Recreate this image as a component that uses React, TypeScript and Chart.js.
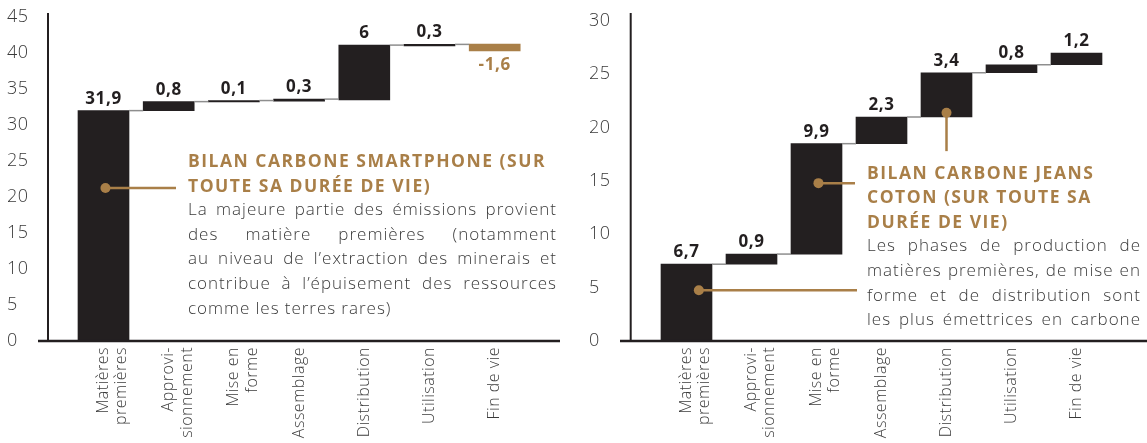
import React, { useEffect, useRef } from "react";
import { Chart, registerables } from "chart.js";

Chart.register(...registerables);

// ---------- data ----------
const categories: string[][] = [
  ["Matières", "premières"],
  ["Approvi-", "sionnement"],
  ["Mise en", "forme"],
  ["Assemblage"],
  ["Distribution"],
  ["Utilisation"],
  ["Fin de vie"],
];

// Smartphone: floating bars (start / end) as drawn
const smartphoneStart = [0, 32.0, 33.2, 33.3, 33.5, 41.0, 41.25];
const smartphoneEnd = [32.0, 33.25, 33.4, 33.6, 41.1, 41.2, 40.3];
const smartphoneLabels = ["31,9", "0,8", "0,1", "0,3", "6", "0,3", "-1,6"];
const smartphoneYTicks = [0, 5, 10, 15, 20, 25, 30, 35, 40, 45];

// Jeans: floating bars (start / end) as drawn
const jeansStart = [0, 7.2, 8.15, 18.5, 21.0, 25.15, 25.9];
const jeansEnd = [7.2, 8.15, 18.5, 21.0, 25.15, 25.9, 27.0];
const jeansLabels = ["6,7", "0,9", "9,9", "2,3", "3,4", "0,8", "1,2"];
const jeansYTicks = [0, 5, 10, 15, 20, 25, 30];

const smartphoneTitle = ["BILAN CARBONE SMARTPHONE (SUR", "TOUTE SA DURÉE DE VIE)"];
const smartphoneText = [
  "La majeure partie des émissions provient",
  "des matière premières (notamment",
  "au niveau de l’extraction des minerais et",
  "contribue à l’épuisement des ressources",
  "comme les terres rares)",
];
const jeansTitle = ["BILAN CARBONE JEANS", "COTON (SUR TOUTE SA", "DURÉE DE VIE)"];
const jeansText = [
  "Les phases de production de",
  "matières premières, de mise en",
  "forme et de distribution sont",
  "les plus émettrices en carbone",
];

// ---------- style ----------
const GOLD = "#a97f48";
const DARK = "#231f20";
const TEXT = "#3a3a3a";
const FONT = "'Open Sans', 'Noto Sans', sans-serif";
const H = 443;
const AREA_BOTTOM = 341;

type Marker = { at: number; value: number; toX?: number; toValue?: number };

const spacingPlugin = {
  id: "spacing",
  beforeDraw(chart: any) {
    chart.ctx.letterSpacing = "0.5px";
  },
};

const waterfallPlugin = {
  id: "waterfall",
  afterDatasetsDraw(chart: any, _args: any, opts: any) {
    const { ctx, chartArea, scales } = chart;
    const xs = scales.x;
    const ys = scales.y;
    const meta = chart.getDatasetMeta(0);
    const data = chart.data.datasets[0].data as [number, number][];
    ctx.save();

    // connectors
    ctx.strokeStyle = "#8e8e8e";
    ctx.lineWidth = 1.5;
    for (let i = 0; i < meta.data.length - 1; i++) {
      const a = meta.data[i];
      const b = meta.data[i + 1];
      const yy = ys.getPixelForValue(data[i][1]);
      ctx.beginPath();
      ctx.moveTo(a.x + a.width / 2, yy);
      ctx.lineTo(b.x - b.width / 2, yy);
      ctx.stroke();
    }

    // axes
    const y0 = ys.getPixelForValue(0);
    ctx.strokeStyle = DARK;
    ctx.lineWidth = 2;
    ctx.beginPath();
    ctx.moveTo(opts.axisX, chartArea.top);
    ctx.lineTo(opts.axisX, y0);
    ctx.stroke();
    ctx.lineWidth = 2.5;
    ctx.beginPath();
    ctx.moveTo(opts.axisFrom, y0);
    ctx.lineTo(opts.axisTo, y0);
    ctx.stroke();

    // value labels
    ctx.font = `700 17px ${FONT}`;
    ctx.letterSpacing = "0.6px";
    ctx.textAlign = "center";
    const labels: string[] = opts.labels;
    for (let i = 0; i < meta.data.length; i++) {
      const el = meta.data[i];
      const [s, e] = data[i];
      if (e < s) {
        ctx.fillStyle = GOLD;
        ctx.textBaseline = "top";
        ctx.fillText(labels[i], el.x, ys.getPixelForValue(e) + 6);
      } else {
        ctx.fillStyle = DARK;
        ctx.textBaseline = "alphabetic";
        ctx.fillText(labels[i], el.x, ys.getPixelForValue(e) - 7);
      }
    }

    // annotation markers
    const markers: Marker[] = opts.markers;
    ctx.strokeStyle = GOLD;
    ctx.fillStyle = GOLD;
    ctx.lineWidth = 2.5;
    for (const m of markers) {
      const px = xs.getPixelForValue(m.at);
      const py = ys.getPixelForValue(m.value);
      ctx.beginPath();
      ctx.moveTo(px, py);
      if (m.toX !== undefined) ctx.lineTo(m.toX, py);
      else if (m.toValue !== undefined) ctx.lineTo(px, ys.getPixelForValue(m.toValue));
      ctx.stroke();
      ctx.beginPath();
      ctx.arc(px, py, 5, 0, Math.PI * 2);
      ctx.fill();
    }
    ctx.restore();
  },
};

type WProps = {
  left: number;
  width: number;
  start: number[];
  end: number[];
  labels: string[];
  yTicks: number[];
  yMax: number;
  labelLeft: number;
  areaLeft: number;
  areaRight: number;
  axisX: number;
  axisFrom: number;
  axisTo: number;
  markers: Marker[];
};

function Waterfall(p: WProps) {
  const ref = useRef<HTMLCanvasElement>(null);
  useEffect(() => {
    const chart = new Chart(ref.current as HTMLCanvasElement, {
      type: "bar",
      data: {
        labels: categories as any,
        datasets: [
          {
            data: p.start.map((s, i) => [s, p.end[i]]) as any,
            backgroundColor: p.start.map((s, i) => (p.end[i] < s ? GOLD : DARK)),
            barThickness: 51,
            borderWidth: 0,
          },
        ],
      },
      options: {
        animation: false,
        responsive: false,
        maintainAspectRatio: false,
        layout: {
          padding: { left: p.labelLeft, right: p.width - p.areaRight, top: 13, bottom: 0 },
        },
        plugins: {
          legend: { display: false },
          tooltip: { enabled: false },
          waterfall: {
            labels: p.labels,
            axisX: p.axisX,
            axisFrom: p.axisFrom,
            axisTo: p.axisTo,
            markers: p.markers,
          },
        } as any,
        scales: {
          x: {
            type: "category",
            offset: true,
            grid: { display: false, drawTicks: false },
            border: { display: false },
            ticks: {
              autoSkip: false,
              maxRotation: 90,
              minRotation: 90,
              padding: 6,
              color: TEXT,
              font: { family: FONT, size: 16, weight: 300 as any, lineHeight: 1.15 },
            },
            afterFit: (s: any) => {
              s.height = H - AREA_BOTTOM;
            },
          },
          y: {
            min: 0,
            max: p.yMax,
            grid: { display: false },
            border: { display: false },
            ticks: {
              crossAlign: "far",
              padding: 0,
              color: TEXT,
              font: { family: FONT, size: 18, weight: 300 as any },
            },
            afterBuildTicks: (s: any) => {
              s.ticks = p.yTicks.map((v) => ({ value: v }));
            },
            afterFit: (s: any) => {
              s.width = p.areaLeft - p.labelLeft;
            },
          },
        },
      },
      plugins: [spacingPlugin as any, waterfallPlugin as any],
    });
    return () => chart.destroy();
  }, []);
  return (
    <canvas
      ref={ref}
      width={p.width}
      height={H}
      style={{ position: "absolute", left: p.left, top: 0, width: p.width, height: H }}
    />
  );
}

function TextBlock(props: {
  left: number;
  top: number;
  width: number;
  title: string[];
  text: string[];
  justifyLast: boolean;
}) {
  const titleStyle: React.CSSProperties = {
    color: GOLD,
    fontWeight: 700,
    fontSize: 17.5,
    letterSpacing: "1.5px",
    whiteSpace: "nowrap",
    height: 24.6,
  };
  return (
    <div
      style={{
        position: "absolute",
        left: props.left,
        top: props.top,
        width: props.width,
        fontFamily: FONT,
        lineHeight: "24.6px",
      }}
    >
      {props.title.map((t, i) => (
        <div key={"t" + i} style={titleStyle}>
          {t}
        </div>
      ))}
      {props.text.map((t, i) => {
        const last = i === props.text.length - 1 && !props.justifyLast;
        const words = t.split(" ");
        return (
          <div
            key={"b" + i}
            style={{
              display: "flex",
              justifyContent: last ? "flex-start" : "space-between",
              columnGap: last ? "0.3em" : 0,
              whiteSpace: "nowrap",
              color: TEXT,
              fontSize: 17,
              fontWeight: 300,
              letterSpacing: "1px",
              height: 24.6,
            }}
          >
            {words.map((w, k) => (
              <span key={k}>{w}</span>
            ))}
          </div>
        );
      })}
    </div>
  );
}

export default function App() {
  return (
    <div style={{ position: "absolute", left: 0, top: 0, width: 1147, height: H, background: "#fff", overflow: "hidden" }}>
      <Waterfall
        left={0}
        width={575}
        start={smartphoneStart}
        end={smartphoneEnd}
        labels={smartphoneLabels}
        yTicks={smartphoneYTicks}
        yMax={45.56}
        labelLeft={7}
        areaLeft={70.9}
        areaRight={527.3}
        axisX={48}
        axisFrom={38}
        axisTo={560}
        markers={[{ at: 0.03, value: 21.25, toX: 176 }]}
      />
      <Waterfall
        left={575}
        width={572}
        start={jeansStart}
        end={jeansEnd}
        labels={jeansLabels}
        yTicks={jeansYTicks}
        yMax={30.75}
        labelLeft={14}
        areaLeft={79}
        areaRight={534}
        axisX={55.7}
        axisFrom={45}
        axisTo={572}
        markers={[
          { at: 0.19, value: 4.75, toX: 282 },
          { at: 2.03, value: 14.8, toX: 280 },
          { at: 4, value: 21.4, toValue: 17.8 },
        ]}
      />
      <TextBlock left={188} top={148} width={369} title={smartphoneTitle} text={smartphoneText} justifyLast={false} />
      <TextBlock left={867} top={159.6} width={274} title={jeansTitle} text={jeansText} justifyLast={true} />
    </div>
  );
}
